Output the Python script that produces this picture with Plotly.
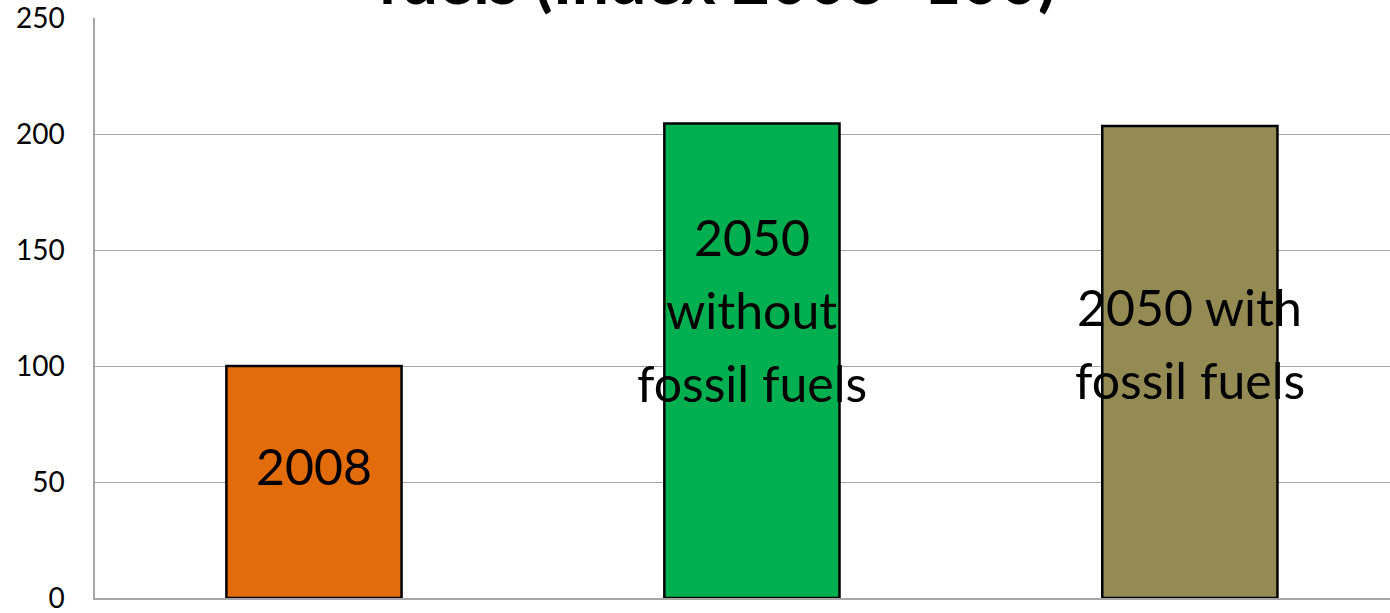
import plotly.graph_objects as go

categories = ["2008", "2050 without fossil fuels", "2050 with fossil fuels"]
values = [100, 204.5, 203.5]
colors = ["#E36C0A", "#00B050", "#948A54"]
bar_label_lines = [["2008"], ["2050", "without", "fossil fuels"], ["2050 with", "fossil fuels"]]
label_center_y = [57, 124, 109.5]
tick_vals = [0, 50, 100, 150, 200, 250]
title_text = "fuels (Index 2008=100)"

FONT = "Lato, Open Sans, sans-serif"
LINE_PX = 73

fig = go.Figure()
fig.add_trace(go.Bar(
    x=categories, y=values, width=0.4,
    marker=dict(color=colors, line=dict(color="black", width=2.5)),
    showlegend=False, hoverinfo="skip",
))

for idx, (lines, cy) in enumerate(zip(bar_label_lines, label_center_y)):
    n = len(lines)
    for i, ln in enumerate(lines):
        shift = ((n - 1) / 2 - i) * LINE_PX
        fig.add_annotation(x=idx, y=cy, text=ln, showarrow=False, yshift=shift,
                           font=dict(family=FONT, size=50, color="black"),
                           xanchor="center", yanchor="middle")

fig.add_annotation(x=(716 - 95) / 1295, xref="paper", y=0.997, yref="paper",
                   text="<b>" + title_text + "</b>",
                   showarrow=False, xanchor="center", yanchor="bottom",
                   font=dict(family=FONT, size=66, color="black"))

fig.update_layout(
    width=1390, height=613,
    margin=dict(l=95, r=0, t=18, b=15),
    paper_bgcolor="white", plot_bgcolor="white",
)
fig.update_xaxes(type="category", range=[-0.5, 2.457], showticklabels=False, showgrid=False,
                 showline=True, linecolor="#a6a6a6", linewidth=1.5, ticks="")
fig.update_yaxes(range=[0, 250], tickvals=tick_vals, showgrid=True, gridcolor="#a6a6a6", gridwidth=1,
                 showline=True, linecolor="#a6a6a6", linewidth=1.5, ticks="", zeroline=False,
                 tickfont=dict(family=FONT, size=28, color="black"),
                 ticklabelstandoff=23, ticklabeloverflow="allow")
fig.write_html("out.html", config={"displayModeBar": False},
               post_script="document.body.style.margin='0';document.body.style.padding='0';document.body.style.overflow='hidden';")
